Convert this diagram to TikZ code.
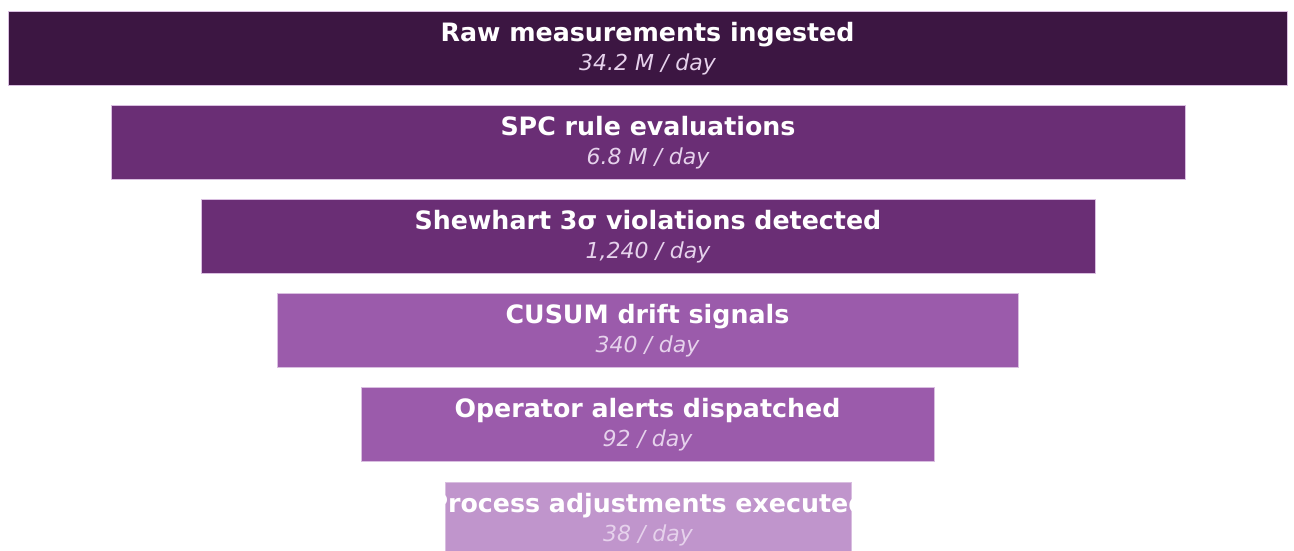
\documentclass[tikz,border=0pt]{standalone}
\usepackage{fontspec}
\setmainfont{DejaVu Sans}
\usetikzlibrary{positioning}
\definecolor{stagedark}{HTML}{3C1642}
\definecolor{stagemid}{HTML}{6A2E75}
\definecolor{stagelight}{HTML}{9B5BAB}
\definecolor{stagepale}{HTML}{C095CC}
\definecolor{stageedge}{HTML}{D9BEE0}
\definecolor{ratetext}{HTML}{E6D2EC}
\begin{document}
\begin{tikzpicture}[
			x=1pt, y=-1pt,
			stage/.style={draw=stageedge, line width=0.8pt, minimum height=74pt, inner sep=0pt},
			stagename/.style={anchor=base, text=white, inner sep=0pt,
					font=\fontsize{25.3}{25.3}\selectfont\bfseries},
			stagerate/.style={anchor=base, text=ratetext, inner sep=0pt,
					font=\fontsize{22}{22}\selectfont\itshape}
		]
		\useasboundingbox[fill=white] (0,0) rectangle (1294,550);
		% funnel stages
		\node[stage, fill=stagedark, minimum width=1279pt] (raw) at (647.5,48) {};
		\node[stage, fill=stagemid, minimum width=1074pt] (spc) at (648,142) {};
		\node[stage, fill=stagemid, minimum width=894pt] (shew) at (648,236) {};
		\node[stage, fill=stagelight, minimum width=741pt] (cusum) at (647.5,330) {};
		\node[stage, fill=stagelight, minimum width=573pt] (alert) at (647.5,424.5) {};
		\node[stage, fill=stagepale, minimum width=406pt] (adjust) at (648,519) {};
		% labels
		\node[stagename] (rawname) at ([yshift=7pt]raw.center) {Raw measurements ingested};
		\node[stagerate] (rawrate) at ([yshift=-22pt]raw.center) {34.2 M / day};
		\node[stagename] (spcname) at ([yshift=7pt]spc.center) {SPC rule evaluations};
		\node[stagerate] (spcrate) at ([yshift=-22pt]spc.center) {6.8 M / day};
		\node[stagename] (shewname) at ([yshift=7pt]shew.center) {Shewhart 3σ violations detected};
		\node[stagerate] (shewrate) at ([yshift=-22pt]shew.center) {1,240 / day};
		\node[stagename] (cusumname) at ([yshift=7pt]cusum.center) {CUSUM drift signals};
		\node[stagerate] (cusumrate) at ([yshift=-22pt]cusum.center) {340 / day};
		\node[stagename] (alertname) at ([yshift=7pt]alert.center) {Operator alerts dispatched};
		\node[stagerate] (alertrate) at ([yshift=-22pt]alert.center) {92 / day};
		\begin{scope}
			\clip (adjust.north west) rectangle (adjust.south east);
			\node[stagename] (adjustname) at ([yshift=7pt]adjust.center) {Process adjustments executed};
			\node[stagerate] (adjustrate) at ([yshift=-22pt]adjust.center) {38 / day};
		\end{scope}
	\end{tikzpicture}
\end{document}
